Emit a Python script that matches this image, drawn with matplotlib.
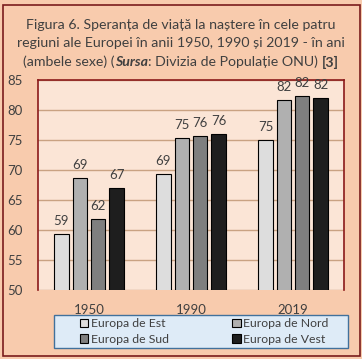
import numpy as np
import matplotlib.pyplot as plt
from matplotlib.patches import Rectangle

years = ['1950', '1990', '2019']
regions = ['Europa de Est', 'Europa de Nord', 'Europa de Sud', 'Europa de Vest']
est = [59.3, 69.3, 74.95]
nord = [68.6, 75.3, 81.6]
sud = [61.8, 75.6, 82.3]
vest = [66.95, 75.95, 81.95]
series = [est, nord, sud, vest]
colors = ['#DDDDDD', '#B0B0B0', '#7F7F7F', '#1E1E1E']

W, H = 362, 359
fig = plt.figure(figsize=(W / 100, H / 100), dpi=100)
fig.patch.set_facecolor('#F8CBAD')
plt.rcParams['font.family'] = ['Lato', 'DejaVu Sans']

# outer frame
fig.patches.append(Rectangle((3 / W, 1 - 356 / H), 357 / W, 351 / H, transform=fig.transFigure,
                             fill=False, edgecolor='#7B1C1C', linewidth=1.2))

ax = fig.add_axes([38 / W, 1 - 290 / H, 306 / W, 210 / H])
ax.set_facecolor('#FBE5D6')
x = np.arange(len(years))
step, width = 0.18, 0.142
handles = []
for i, (vals, col) in enumerate(zip(series, colors)):
    bars = ax.bar(x + (i - 1.5) * step, vals, width, color=col, edgecolor='black',
                  linewidth=0.8, label=regions[i], zorder=3)
    handles.append(bars)
    ax.bar_label(bars, labels=['{:.0f}'.format(v) for v in vals], padding=5,
                 fontsize=9.5, color='#404040')

ax.set_ylim(50, 85)
ax.set_xlim(-0.5, 2.5)
ax.set_yticks(range(50, 90, 5))
ax.set_xticks(x)
ax.set_xticklabels(years)
ax.tick_params(axis='both', length=0, labelsize=9.5, colors='#404040')
ax.tick_params(axis='y', pad=11)
ax.tick_params(axis='x', pad=10)
ax.yaxis.grid(True, color='#C9A282', linewidth=1, zorder=0)
ax.set_axisbelow(True)
for s in ['left', 'top', 'right']:
    ax.spines[s].set_color('#8B1A1A')
    ax.spines[s].set_linewidth(1.2)
ax.spines['bottom'].set_visible(False)

# legend box drawn separately, entries centred inside it
fig.patches.append(Rectangle((54 / W, 1 - 348 / H), 294 / W, 33 / H, transform=fig.transFigure,
                             facecolor='#DEEBF7', edgecolor='#41719C', linewidth=1.0))
order = [0, 2, 1, 3]
leg = fig.legend([handles[k] for k in order], [regions[k] for k in order],
                 loc='center', bbox_to_anchor=(204 / W, 1 - 331.5 / H),
                 ncol=2, frameon=False, fontsize=8.8, handlelength=0.7,
                 handleheight=0.7, handletextpad=0.2, borderaxespad=0, borderpad=0,
                 labelspacing=0.35, columnspacing=5.2)
for t in leg.get_texts():
    t.set_color('#404040')

tc = '#404040'
fs = 10.2
fig.text(0.5, 1 - 25 / H, 'Figura 6. Speranța de viață la naștere în cele patru',
         ha='center', va='center', fontsize=fs, color=tc)
fig.text(0.5, 1 - 43 / H, 'regiuni ale Europei în anii 1950, 1990 și 2019 - în ani',
         ha='center', va='center', fontsize=fs, color=tc)

# third line with mixed styles
pieces = [('(ambele sexe) (', 'normal', 'normal'), ('Sursa', 'italic', 'bold'),
          (': Divizia de Populație ONU) ', 'normal', 'normal'), ('[3]', 'normal', 'bold')]
texts = [fig.text(0, 1 - 62 / H, p, ha='left', va='center', fontsize=fs, color=tc,
                  style=st, weight=wt) for p, st, wt in pieces]
fig.canvas.draw()
r = fig.canvas.get_renderer()
widths = [t.get_window_extent(r).width / W for t in texts]
xpos = 0.5 - sum(widths) / 2
for t, w in zip(texts, widths):
    t.set_x(xpos)
    xpos += w

fig.savefig('out.png', dpi=100, facecolor=fig.get_facecolor())
